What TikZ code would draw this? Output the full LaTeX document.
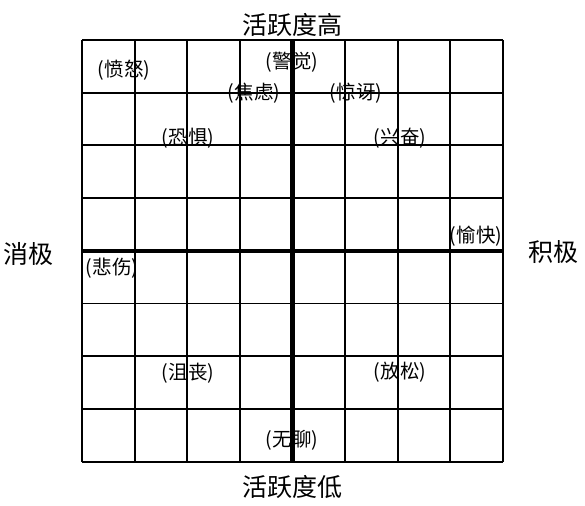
\documentclass[tikz,border=0pt]{standalone}
\usepackage{fontspec}
\setmainfont{Noto Sans CJK SC}
\begin{document}
\begin{tikzpicture}[x=1pt, y=-1pt,
  gridline/.style={line width=1.8pt},
  axisline/.style={line width=4.6pt},
  axislabel/.style={font=\fontsize{25}{28}\selectfont, inner sep=0pt},
  mood/.style={font=\fontsize{19.5}{22}\selectfont, inner sep=0pt}]
\useasboundingbox (0,0) rectangle (585,505);
% grid
\foreach \i in {0,...,8} {
  \draw[gridline] (82+52.6*\i,40) -- (82+52.6*\i,461.6);
  \draw[gridline] (82,40+52.7*\i) -- (502.8,40+52.7*\i);
}
% axes
\coordinate (top) at (292.4,40);
\coordinate (bottom) at (292.4,461.6);
\coordinate (left) at (82,250.8);
\coordinate (right) at (502.8,250.8);
\draw[axisline] (top) -- (bottom);
\draw[axisline] (left) -- (right);
\node[axislabel] (high) at (292,25) {活跃度高};
\node[axislabel] (low) at (292,487) {活跃度低};
\node[axislabel] (neg) at (28,254) {消极};
\node[axislabel] (pos) at (553,252) {积极};
% moods
\node[mood] (anger) at (124,70) {(愤怒)};
\node[mood] (alert) at (292,62) {(警觉)};
\node[mood] (anxiety) at (254,93) {(焦虑)};
\node[mood] (surprise) at (356,93) {(惊讶)};
\node[mood] (fear) at (188,138) {(恐惧)};
\node[mood] (excited) at (400,138) {(兴奋)};
\node[mood] (happy) at (476,236) {(愉快)};
\node[mood] (sad) at (112,268) {(悲伤)};
\node[mood] (depressed) at (188,373) {(沮丧)};
\node[mood] (relaxed) at (400,372) {(放松)};
\node[mood] (bored) at (292,440) {(无聊)};
\end{tikzpicture}
\end{document}
